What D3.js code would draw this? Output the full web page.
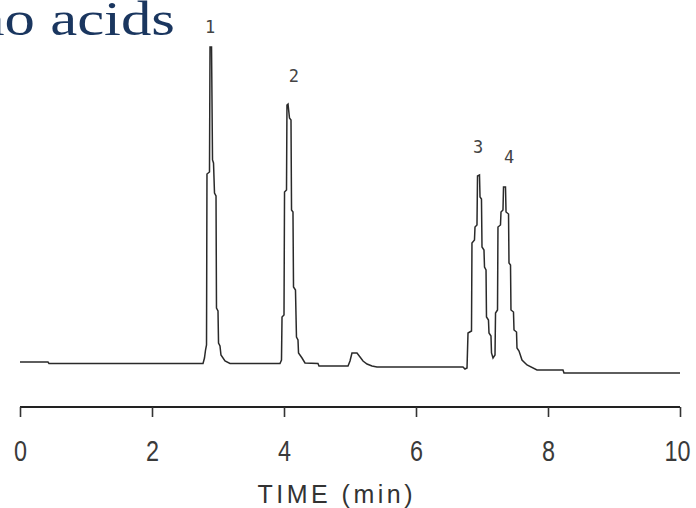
<!DOCTYPE html>
<html>
<head>
<meta charset="utf-8">
<script src="https://cdn.jsdelivr.net/npm/d3@7"></script>
<style>
  html, body { margin: 0; padding: 0; background: #fff; }
  svg { display: block; }
</style>
</head>
<body>
<svg id="chart" width="696" height="508"></svg>
<script>
// ---- data ----
const title = "Amino acids";
const xTicks = [0, 2, 4, 6, 8, 10];
const xLabel = "TIME (min)";
// retention time (min)
const times = [0, 0.424, 0.439, 2.773, 2.795, 2.811, 2.826, 2.833, 2.871, 2.879, 2.902, 2.917, 2.932, 2.947, 2.970, 2.977, 3.000, 3.008, 3.030, 3.045, 3.106, 3.182,
  3.939, 3.962, 3.970, 4.000, 4.008, 4.038, 4.045, 4.061, 4.083, 4.106, 4.114, 4.136, 4.144, 4.174, 4.189, 4.212, 4.220, 4.273, 4.318, 4.515, 4.530,
  4.970, 5.000, 5.030, 5.106, 5.152, 5.197, 5.258, 5.333, 5.409,
  6.712, 6.742, 6.773, 6.788, 6.841, 6.848, 6.886, 6.894, 6.924, 6.932, 6.962, 6.970, 6.992, 7.000, 7.030, 7.038, 7.061, 7.068, 7.098, 7.106, 7.136, 7.144, 7.167,
  7.197, 7.205, 7.235, 7.242, 7.280, 7.288, 7.318, 7.326, 7.356, 7.364, 7.402, 7.409, 7.432, 7.439, 7.477, 7.485, 7.523, 7.530, 7.561, 7.606, 7.682, 7.833,
  8.227, 8.242, 10.0];
// detector response (arbitrary units)
const signal = [18, 18, 16.5, 16.5, 22, 30, 35, 206, 208, 333, 333, 220, 217, 187, 184, 72, 69, 37, 34, 25, 19, 16.5,
  16.5, 20, 63, 65, 188, 190, 275, 276, 262, 260, 170, 168, 93, 90, 43, 40, 27, 22, 17, 16.5, 14,
  14, 19, 27, 27, 23, 19, 16, 14, 13,
  13, 11, 12, 47, 49, 137, 140, 153, 155, 204, 205, 183, 181, 133, 130, 113, 110, 63, 60, 47, 44, 27, 22,
  25, 67, 70, 153, 155, 168, 170, 193, 193, 168, 166, 117, 115, 70, 68, 50, 48, 32, 29, 20, 15, 10,
  10, 7, 7];
const peakNames = ["1", "2", "3", "4"];
const peakLabelTimes = [2.88, 4.15, 6.94, 7.41];
const peakLabelLevels = [347, 298, 227, 217];

// ---- drawing ----
const svg = d3.select("#chart");

const x = d3.scaleLinear().domain([0, 10]).range([20, 680]);
const y = d3.scaleLinear().domain([0, 380]).range([380, 0]);

// title (partially cropped, as in the source slide)
svg.append("text")
  .attr("transform", "translate(175,35) scale(1.24,1)")
  .attr("text-anchor", "end")
  .attr("font-family", "'Liberation Serif', 'Times New Roman', serif")
  .attr("font-size", 49)
  .attr("fill", "#1a365f")
  .text(title);

// chromatogram trace
const pts = times.map((t, i) => [t, signal[i]]);
svg.append("path")
  .datum(pts)
  .attr("fill", "none")
  .attr("stroke", "#2a2a2a")
  .attr("stroke-width", 1.5)
  .attr("stroke-linejoin", "miter")
  .attr("d", d3.line().x(d => x(d[0])).y(d => y(d[1])));

// peak numbers
svg.selectAll("text.peak")
  .data(peakNames)
  .join("text")
  .attr("class", "peak")
  .attr("x", (d, i) => x(peakLabelTimes[i]))
  .attr("y", (d, i) => y(peakLabelLevels[i]))
  .attr("text-anchor", "middle")
  .attr("font-family", "'DejaVu Sans Mono', monospace")
  .attr("font-size", 17)
  .attr("fill", "#444")
  .text(d => d);

// x axis
const axisG = svg.append("g").attr("transform", "translate(0,407)");
const axis = d3.axisBottom(x).tickValues(xTicks).tickSize(10).tickPadding(23).tickFormat(d3.format("d"));
axisG.call(axis);
axisG.select(".domain")
  .attr("d", `M${x(0)},0H${x(10)}`)
  .attr("stroke", "#222")
  .attr("stroke-width", 2);
axisG.selectAll(".tick line").attr("stroke", "#333").attr("stroke-width", 1.6);
axisG.selectAll(".tick text")
  .attr("font-family", "'Liberation Sans', Arial, sans-serif")
  .attr("font-size", 29)
  .attr("fill", "#3a3a3a")
  .attr("dx", d => d >= 10 ? -3 : 0)
  .attr("textLength", d => String(d).length * 13)
  .attr("lengthAdjust", "spacingAndGlyphs");

svg.append("text")
  .attr("x", 335)
  .attr("y", 503)
  .attr("text-anchor", "middle")
  .attr("font-family", "'Liberation Sans', Arial, sans-serif")
  .attr("font-size", 25)
  .attr("fill", "#333")
  .attr("textLength", 155)
  .attr("lengthAdjust", "spacing")
  .text(xLabel);
</script>
</body>
</html>
